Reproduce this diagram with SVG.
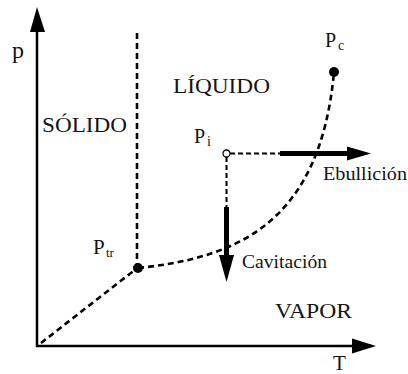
<svg xmlns="http://www.w3.org/2000/svg" width="408" height="374" viewBox="0 0 408 374" font-family="Liberation Serif">
<style>
.t{fill:#141414}
.ax{stroke:#000;stroke-width:2.5;fill:none}
.dash{stroke:#000;stroke-width:2.6;fill:none;stroke-dasharray:6 4}
.thin{stroke:#000;stroke-width:2;fill:none;stroke-dasharray:5 3}
.thick{stroke:#000;stroke-width:5;fill:none}
</style>
<rect width="408" height="374" fill="#fff"/>
<g id="axes">
<line class="ax" x1="37" y1="347" x2="37" y2="30"/>
<polygon points="37,7 30,32 45,32" fill="#000"/>
<line class="ax" x1="36" y1="346" x2="354" y2="346"/>
<polygon points="376,346 352,338.5 352,353.5" fill="#000"/>
</g>
<g id="connectors">
<line class="dash" x1="137" y1="33" x2="137" y2="266"/>
<line class="dash" x1="41" y1="343" x2="136" y2="269"/>
<path class="dash" d="M138,268 C235,258 320,225 334,72"/>
<line class="thin" x1="230" y1="153.5" x2="281" y2="153.5"/>
<line class="thick" x1="280" y1="153.5" x2="349" y2="153.5"/>
<polygon points="371,153.5 347,146.5 347,160.5" fill="#000"/>
<line class="thin" x1="226.5" y1="157" x2="226.5" y2="208"/>
<line class="thick" x1="226.5" y1="207" x2="226.5" y2="257"/>
<polygon points="226.5,282 219,255 234,255" fill="#000"/>
</g>
<g id="triple">
<circle cx="138" cy="268" r="5" fill="#000"/>
</g>
<g id="critical">
<circle cx="334" cy="72" r="5" fill="#000"/>
</g>
<g id="initial">
<circle cx="226.5" cy="153.5" r="3.5" fill="#fff" stroke="#000" stroke-width="1.3"/>
</g>
<g id="labels">
<text class="t" x="12" y="58" font-size="24" font-family="Liberation Serif">p</text>
<text class="t" x="333" y="370" font-size="21" font-family="Liberation Serif">T</text>
<text class="t" x="93" y="254" font-size="21" font-family="Liberation Serif">P</text>
<text class="t" x="106" y="257" font-size="13" font-family="Liberation Serif">tr</text>
<text class="t" x="325" y="47" font-size="20" font-family="Liberation Serif">P</text>
<text class="t" x="338" y="50" font-size="14" font-family="Liberation Serif">c</text>
<text class="t" x="194" y="143" font-size="20" font-family="Liberation Serif">P</text>
<text class="t" x="207" y="146" font-size="14" font-family="Liberation Serif">i</text>
<text class="t" x="42" y="132" font-size="22" font-family="Liberation Serif" textLength="85" lengthAdjust="spacingAndGlyphs">SÓLIDO</text>
<text class="t" x="173" y="93" font-size="22" font-family="Liberation Serif" textLength="97" lengthAdjust="spacingAndGlyphs">LÍQUIDO</text>
<text class="t" x="275" y="318" font-size="21" font-family="Liberation Serif" textLength="77" lengthAdjust="spacingAndGlyphs">VAPOR</text>
<text class="t" x="323" y="180" font-size="19" font-family="Liberation Serif" textLength="84" lengthAdjust="spacingAndGlyphs">Ebullición</text>
<text class="t" x="242" y="268" font-size="19" font-family="Liberation Serif" textLength="85" lengthAdjust="spacingAndGlyphs">Cavitación</text>
</g>
</svg>
